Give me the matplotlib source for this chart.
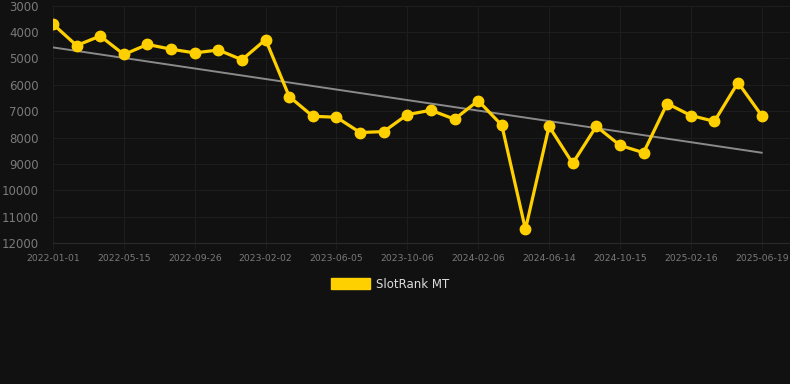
import numpy as np
import matplotlib
matplotlib.use("Agg")
import matplotlib.pyplot as plt
from matplotlib.patches import Patch

# rank values (lower is better, y axis inverted)
ranks = [3700, 4510, 4150, 4850, 4470, 4650, 4790, 4680, 5050, 4285,
         6445, 7195, 7230, 7810, 7775, 7130, 6965, 7305, 6600, 7535,
         11480, 7575, 8980, 7575, 8295, 8575, 6710, 7165, 7385, 5915,
         7165]
tick_labels = ["2022-01-01", "2022-05-15", "2022-09-26", "2023-02-02",
               "2023-06-05", "2023-10-06", "2024-02-06", "2024-06-14",
               "2024-10-15", "2025-02-16", "2025-06-19"]
y_ticks = [3000, 4000, 5000, 6000, 7000, 8000, 9000, 10000, 11000, 12000]

bg = "#111111"
yellow = "#FFD000"
grid_c = "#1d1d1d"
txt_c = "#7a7a7a"

x = np.arange(len(ranks))

fig = plt.figure(figsize=(7.9, 3.84), dpi=100, facecolor=bg)
ax = fig.add_axes([53 / 790, 1 - 243 / 384, 1 - 53 / 790, (243 - 5.7) / 384])
ax.set_facecolor(bg)

# trend line (linear fit)
k, b = np.polyfit(x, ranks, 1)
ax.plot(x, k * x + b, color="#8a8a8a", lw=1.4, zorder=2)

ax.plot(x, ranks, color=yellow, lw=2.3, marker="o", ms=7.5, zorder=3)

ax.set_ylim(12000, 3000)
ax.set_xlim(0, 31.2)
ax.set_yticks(y_ticks)
ax.set_yticklabels([str(v) for v in y_ticks])
ax.set_xticks(x[::3])
ax.set_xticklabels(tick_labels)

ax.grid(True, color=grid_c, lw=0.8)
for s in ["top", "right", "left"]:
    ax.spines[s].set_visible(False)
ax.spines["bottom"].set_color("#2a2a2a")
ax.tick_params(axis="y", length=0, pad=10, labelsize=8.5, labelcolor=txt_c)
ax.tick_params(axis="x", length=4, color=grid_c, pad=4, labelsize=6.7, labelcolor=txt_c)

fig.legend(handles=[Patch(color=yellow, label="SlotRank MT")],
           loc="center", bbox_to_anchor=(390 / 790, 1 - 284 / 384),
           frameon=False, fontsize=8.5, labelcolor="#dddddd",
           handlelength=3.3, handleheight=1.0, handletextpad=0.5)

fig.savefig("out.png", dpi=100, facecolor=bg)
